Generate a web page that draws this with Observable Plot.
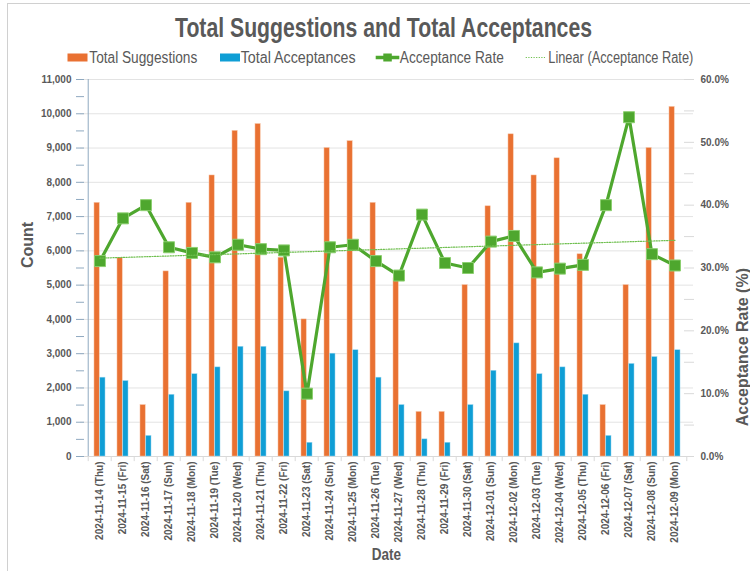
<!DOCTYPE html>
<html>
<head>
<meta charset="utf-8">
<script src="https://cdn.jsdelivr.net/npm/d3@7"></script>
<script src="https://cdn.jsdelivr.net/npm/@observablehq/plot@0.6"></script>
<style>
  html, body { margin: 0; padding: 0; background: #fff; }
  #wrap { position: relative; width: 750px; height: 571px; overflow: hidden; background: #fff; }
  #border { position: absolute; left: 7px; top: 3px; right: -2px; bottom: -2px; border-left: 1px solid #d0d0d0; border-top: 1px solid #d0d0d0; }
  #chart { position: absolute; left: 0; top: 70px; }
  #overlay { position: absolute; left: 0; top: 0; pointer-events: none; }
</style>
</head>
<body>
<div id="wrap">
  <div id="border"></div>
  <div id="chart"></div>
  <svg id="overlay" width="750" height="571"></svg>
</div>
<script>
const dates = [
  "2024-11-14 (Thu)", "2024-11-15 (Fri)", "2024-11-16 (Sat)", "2024-11-17 (Sun)",
  "2024-11-18 (Mon)", "2024-11-19 (Tue)", "2024-11-20 (Wed)", "2024-11-21 (Thu)",
  "2024-11-22 (Fri)", "2024-11-23 (Sat)", "2024-11-24 (Sun)", "2024-11-25 (Mon)",
  "2024-11-26 (Tue)", "2024-11-27 (Wed)", "2024-11-28 (Thu)", "2024-11-29 (Fri)",
  "2024-11-30 (Sat)", "2024-12-01 (Sun)", "2024-12-02 (Mon)", "2024-12-03 (Tue)",
  "2024-12-04 (Wed)", "2024-12-05 (Thu)", "2024-12-06 (Fri)", "2024-12-07 (Sat)",
  "2024-12-08 (Sun)", "2024-12-09 (Mon)"
];
const totalSuggestions = [7400, 5800, 1500, 5400, 7400, 8200, 9500, 9700, 5800, 4000, 9000, 9200, 7400, 5200, 1300, 1300, 5000, 7300, 9400, 8200, 8700, 5900, 1500, 5000, 9000, 10200];
const totalAcceptances = [2300, 2200, 600, 1800, 2400, 2600, 3200, 3200, 1900, 400, 3000, 3100, 2300, 1500, 500, 400, 1500, 2500, 3300, 2400, 2600, 1800, 600, 2700, 2900, 3100];
const acceptanceRate = [31.1, 37.9, 40.0, 33.3, 32.4, 31.7, 33.7, 33.0, 32.8, 10.0, 33.3, 33.7, 31.1, 28.8, 38.5, 30.8, 30.0, 34.2, 35.1, 29.3, 29.9, 30.5, 40.0, 54.0, 32.2, 30.4];
const countTicks = [0, 1000, 2000, 3000, 4000, 5000, 6000, 7000, 8000, 9000, 10000, 11000];
const rateTicks = [0, 10, 20, 30, 40, 50, 60];
const rateMinorTicks = [0, 5, 10, 15, 20, 25, 30, 35, 40, 45, 50, 55, 60];
const seriesNames = ["Total Suggestions", "Total Acceptances", "Acceptance Rate", "Linear (Acceptance Rate)"];
const titleText = "Total Suggestions and Total Acceptances";

const COUNT_MAX = 11000, RATE_MAX = 60;
const k = COUNT_MAX / RATE_MAX;

const ORANGE = "#E97132", BLUE = "#0F9ED5", GREEN = "#4EA72E", TREND = "#6fbf4f", TXT = "#595959";
const FONT = "'Liberation Sans', Arial, sans-serif";

const rows = dates.map((d, i) => ({
  date: d, i,
  sugg: totalSuggestions[i],
  acc: totalAcceptances[i],
  rate: acceptanceRate[i]
}));

// linear trend of acceptance rate (least squares)
const mx = d3.mean(rows, d => d.i), my = d3.mean(rows, d => d.rate);
const slope = d3.sum(rows, d => (d.i - mx) * (d.rate - my)) / d3.sum(rows, d => (d.i - mx) ** 2);
const intercept = my - slope * mx;

const W = 750, H = 501, ML = 80, MR = 57, MT = 9, MB = 115;
const bw = (W - ML - MR) / dates.length;
const barW = 5.8;
const inset = (bw - barW) / 2;
const minorCount = d3.range(0, COUNT_MAX + 1, 500);

const chart = Plot.plot({
  width: W, height: H,
  marginLeft: ML, marginRight: MR, marginTop: MT, marginBottom: MB,
  style: { fontFamily: FONT, fontSize: "10px", fontWeight: "bold", color: TXT, background: "transparent", overflow: "visible" },
  x: { type: "band", domain: dates, padding: 0, label: null },
  y: { domain: [0, COUNT_MAX], label: null },
  marks: [
    Plot.gridY(countTicks, { stroke: "#e3e3e3", strokeOpacity: 1 }),
    Plot.ruleY([0], { stroke: "#d9d9d9" }),
    Plot.ruleX(dates, { x: d => d, dx: -bw / 2, y1: 0, y2: -150, stroke: "#d9d9d9" }),
    Plot.ruleX([dates[dates.length - 1]], { x: d => d, dx: bw / 2, y1: 0, y2: -150, stroke: "#d9d9d9" }),
    Plot.barY(rows, { x: "date", y: "sugg", fill: ORANGE, stroke: "#f6c3a5", strokeWidth: 0.5, insetLeft: inset, insetRight: inset, dx: -barW / 2 }),
    Plot.barY(rows, { x: "date", y: "acc", fill: BLUE, stroke: "#9ad6ee", strokeWidth: 0.5, insetLeft: inset, insetRight: inset, dx: barW / 2 }),
    Plot.line(rows, { x: "date", y: d => d.rate * k, stroke: GREEN, strokeWidth: 3.2, strokeLinejoin: "round" }),
    Plot.dot(rows, { x: "date", y: d => d.rate * k, symbol: "square", r: 6.2, fill: GREEN, stroke: "#8ccf70", strokeWidth: 1 }),
    Plot.line(rows, { x: "date", y: d => (intercept + slope * d.i) * k, stroke: TREND, strokeWidth: 1.2, strokeDasharray: "1.2,1.4" }),
    Plot.ruleX([dates[0]], { x: d => d, dx: -bw / 2, y1: 0, y2: COUNT_MAX, stroke: "#8fa9c0" }),
    Plot.axisY({ ticks: minorCount, tickSize: 8, dx: 4, tickFormat: () => "", stroke: "#8fa9c0" }),
    Plot.axisY({ ticks: countTicks, tickSize: 0, tickPadding: 9, tickFormat: d3.format(","), label: null, fill: TXT }),
    Plot.axisY({ anchor: "right", ticks: rateMinorTicks.map(r => r * k), tickSize: 10, dx: -10, tickFormat: () => "", stroke: "#d9d9d9", label: null }),
    Plot.axisY({ anchor: "right", ticks: rateTicks.map(r => r * k), tickSize: 0, tickPadding: 7, tickFormat: d => (d / k).toFixed(1) + "%", label: null, fill: TXT }),
    Plot.axisX({ tickSize: 0, tickRotate: -90, tickPadding: 5, label: null, fill: TXT }),
    Plot.text(["Count"], { frameAnchor: "left", dx: -53, rotate: -90, fontSize: 16, fontWeight: "bold", fill: TXT }),
    Plot.text(["Acceptance Rate (%)"], { frameAnchor: "right", dx: 49, rotate: -90, fontSize: 16, fontWeight: "bold", fill: TXT })
  ]
});
document.getElementById("chart").appendChild(chart);

// overlay: title, legend, x-axis title (narrow-looking text fitted to widths)
const ov = d3.select("#overlay");
function fitText(str, x, y, len, size, weight) {
  ov.append("text").attr("x", x).attr("y", y)
    .attr("textLength", len).attr("lengthAdjust", "spacingAndGlyphs")
    .attr("font-family", FONT).attr("font-size", size).attr("font-weight", weight)
    .attr("fill", TXT).text(str);
}
fitText(titleText, 175, 36.5, 417, 28, "bold");

const LY = 57.5, LB = 62.5;
// Total Suggestions
ov.append("rect").attr("x", 67.5).attr("y", LY - 4).attr("width", 20).attr("height", 8).attr("fill", ORANGE);
fitText(seriesNames[0], 89.3, LB, 108, 16, "normal");
// Total Acceptances
ov.append("rect").attr("x", 220).attr("y", LY - 4).attr("width", 20).attr("height", 8).attr("fill", BLUE);
fitText(seriesNames[1], 240.7, LB, 115, 16, "normal");
// Acceptance Rate
ov.append("line").attr("x1", 375.7).attr("x2", 399.3).attr("y1", LY).attr("y2", LY).attr("stroke", GREEN).attr("stroke-width", 3.5);
ov.append("rect").attr("x", 383.3).attr("y", LY - 4).attr("width", 8.5).attr("height", 8).attr("fill", GREEN);
fitText(seriesNames[2], 399.8, LB, 104, 16, "normal");
// Linear trend
ov.append("line").attr("x1", 525.7).attr("x2", 545).attr("y1", LY).attr("y2", LY).attr("stroke", TREND).attr("stroke-width", 1.2).attr("stroke-dasharray", "1.2,1.4");
fitText(seriesNames[3], 548.3, LB, 145, 16, "normal");

// x-axis title
fitText("Date", 371.7, 560, 29.3, 16, "bold");
</script>
</body>
</html>
